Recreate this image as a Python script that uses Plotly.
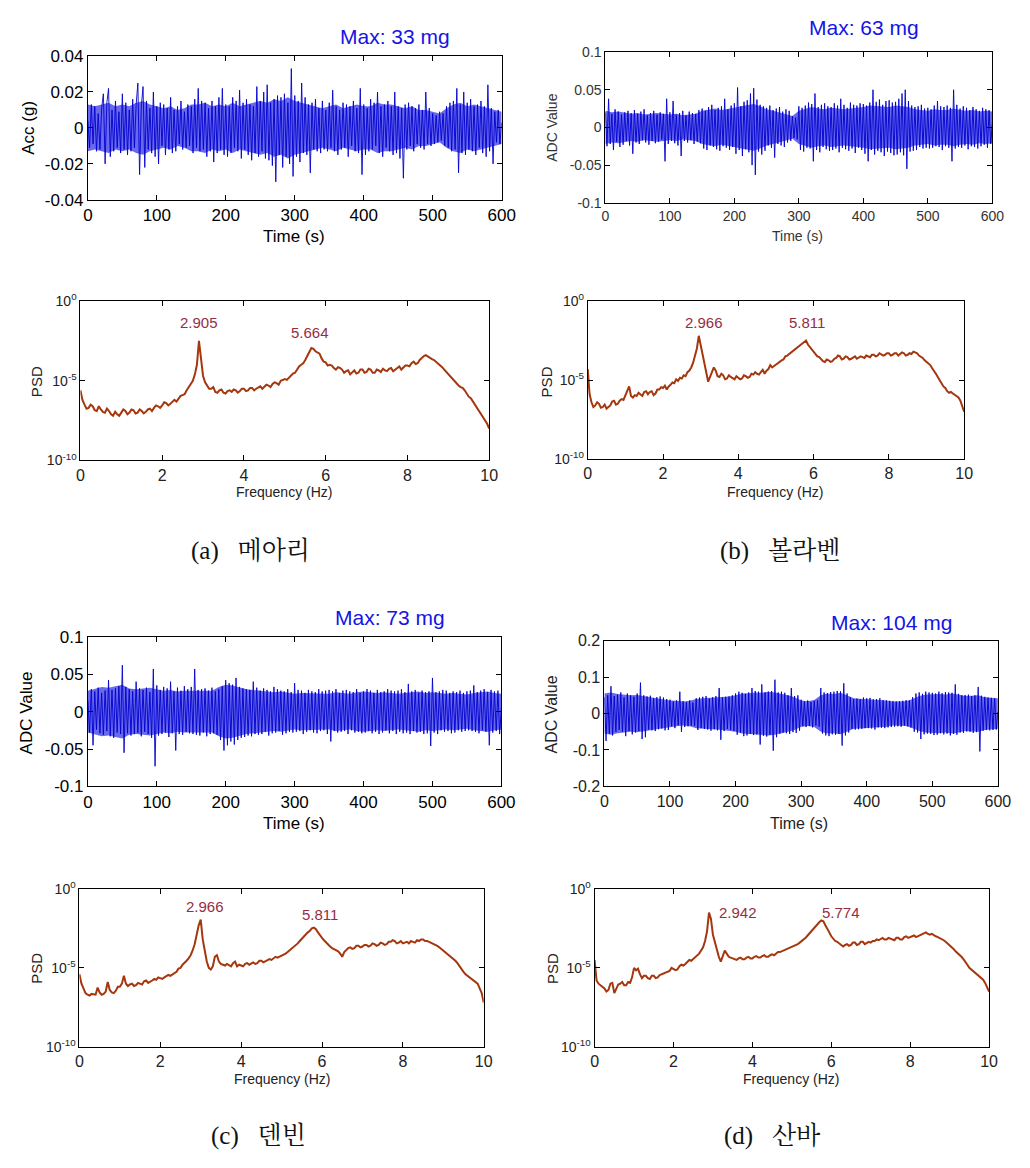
import plotly.graph_objects as go

# page is 1030x1168; the html body keeps its default 8px margin, so the figure is inset by 8px
PAGE_W, PAGE_H = 1030, 1168
INSET = 8
W, H = PAGE_W - 2 * INSET, PAGE_H - 2 * INSET

# ---------------- data ----------------
time_step_s = 2.5
band_step_s = 10
freq_step_hz = 0.05

# (a) Meari  acceleration, mg
acc_a_mg = [
    4, -11, 13, -9, 12, -13, 8, -12, 11, 19, -20, 14, 22, -16, 10, -13, 15, -11, 9, -14,
    19, -12, 14, -15, 10, -13, 16, -11, 13, 25, -26, 12, 23, -22, 15, -12, 11, -14, 20, -16,
    12, -20, 14, -10, 13, -15, 11, -12, 17, -14, 10, -13, 12, -9, 15, -12, 9, -11, 13, -10,
    12, -14, 16, -11, 22, -13, 15, -12, 14, -16, 11, -13, 15, -19, 12, -14, 17, -12, 22, -15,
    13, -16, 12, -14, 17, -11, 15, -13, 21, -17, 14, -12, 16, -15, 13, -18, 12, -14, 23, -16,
    15, -13, 20, -17, 24, -18, 14, -21, 16, -30, 18, -15, 17, -22, 19, -16, 14, -20, 33, -27,
    18, -16, 15, -19, 25, -14, 17, -15, 13, -25, 14, -12, 16, -13, 11, -14, 15, -12, 10, -13,
    14, -11, 21, -13, 12, -15, 10, -12, 14, -11, 13, -16, 12, -10, 15, -13, 11, -14, 22, -26,
    13, -15, 11, -13, 16, -12, 14, -10, 20, -14, 12, -16, 13, -11, 15, -13, 12, -15, 20, -14,
    12, -17, 11, -28, 13, -12, 14, -10, 12, -13, 11, -9, 13, -11, 10, -12, 20, -9, 11, -10,
    8, -9, 7, -8, 9, -7, 8, -10, 12, -11, 14, -13, 15, -12, 22, -25, 13, -14, 20, -15,
    14, -12, 16, -13, 12, -15, 13, -11, 15, -14, 12, -16, 24, -13, 11, -20, 9, -8, 10, -9, 3,
]
# half-width of the dense light-blue band, every 10 s
band_a_mg = [13, 12, 13, 14, 12, 13, 12, 14, 15, 13, 12, 11, 12, 10, 11, 13, 13, 14, 12, 13,
             12, 14, 12, 13, 14, 15, 14, 16, 15, 17, 15, 14, 13, 12, 11, 12, 13, 11, 12, 13,
             12, 12, 14, 13, 13, 12, 11, 12, 10, 10, 9, 8, 11, 13, 14, 12, 13, 12, 11, 10, 9]

# (b) Bolaven  ADC value x1000
adc_b_milli = [
    20, -25, 38, -22, 18, -30, 24, -19, 21, -26, 17, -23, 20, -18, 22, -24, 19, -35, 23, -20,
    18, -22, 21, -17, 24, -20, 16, -23, 19, -18, 22, -21, 17, -19, 20, -16, 18, -45, 38, -22,
    20, -18, 35, -21, 17, -24, 19, -38, 22, -18, 16, -20, 21, -17, 19, -22, 18, -19, 23, -21,
    25, -28, 22, -30, 27, -24, 30, -26, 23, -29, 26, -31, 28, -25, 38, -27, 24, -30, 29, -26,
    32, -35, 53, -30, 28, -38, 34, -29, 36, -33, 45, -50, 52, -63, 37, -32, 30, -36, 28, -31,
    26, -24, 29, -27, 23, -40, 25, -22, 27, -24, 21, -26, 24, -20, 22, -18, 15, -14, 13, -16,
    28, -30, 26, -32, 29, -27, 33, -28, 31, -45, 45, -30, 27, -33, 30, -26, 32, -29, 28, -31,
    27, -30, 32, -28, 29, -33, 38, -27, 30, -29, 26, -31, 33, -28, 30, -34, 29, -27, 32, -30,
    31, -35, 29, -45, 33, -30, 50, -36, 34, -31, 37, -33, 30, -38, 35, -32, 36, -34, 33, -37,
    34, -36, 38, -33, 45, -37, 50, -55, 35, -32, 29, -31, 27, -30, 28, -26, 30, -28, 25, -27,
    26, -28, 24, -27, 29, -25, 35, -26, 28, -30, 27, -25, 29, -27, 26, -45, 50, -28, 30, -26,
    25, -27, 28, -24, 26, -29, 23, -25, 27, -26, 24, -28, 22, -25, 26, -23, 24, -27, 23, -22, 5,
]
band_b_milli = [22, 20, 21, 19, 18, 19, 17, 18, 19, 18, 17, 18, 16, 17, 18, 22, 24, 25, 23, 24,
                26, 28, 30, 31, 28, 24, 22, 20, 18, 15, 22, 25, 27, 25, 24, 26, 25, 24, 25, 26,
                27, 29, 28, 28, 27, 29, 28, 27, 24, 23, 22, 24, 23, 23, 25, 23, 22, 23, 21, 22, 21]

# (c) Tembin  ADC value x1000
adc_c_milli = [
    15, -28, 30, -45, 27, -24, 32, -29, 25, -31, 28, -26, 42, -33, 29, -35, 31, -28, 34, -30,
    62, -55, 33, -29, 30, -32, 27, -30, 40, -28, 31, -33, 29, -27, 32, -30, 26, -35, 57, -73,
    35, -32, 29, -30, 33, -28, 31, -34, 40, -29, 27, -52, 32, -30, 28, -31, 34, -27, 30, -29,
    33, -30, 57, -31, 29, -32, 30, -28, 31, -33, 28, -30, 32, -29, 27, -31, 30, -38, 34, -52,
    42, -45, 38, -40, 36, -44, 45, -38, 33, -35, 31, -34, 30, -32, 29, -33, 40, -30, 32, -31,
    28, -30, 31, -27, 29, -32, 27, -29, 33, -28, 30, -26, 28, -31, 27, -29, 30, -27, 26, -28,
    38, -27, 29, -26, 28, -30, 25, -27, 29, -25, 27, -28, 26, -29, 30, -26, 27, -25, 28, -30,
    29, -40, 27, -26, 30, -28, 25, -27, 28, -26, 29, -30, 27, -25, 26, -28, 30, -27, 25, -29,
    27, -28, 30, -26, 28, -29, 25, -27, 29, -30, 26, -28, 27, -25, 30, -29, 28, -26, 27, -30,
    28, -27, 30, -29, 26, -28, 37, -30, 27, -26, 29, -28, 25, -27, 28, -30, 26, -29, 27, -46,
    45, -28, 26, -30, 27, -25, 29, -27, 28, -26, 25, -29, 27, -28, 26, -25, 28, -27, 25, -26,
    27, -25, 28, -26, 35, -27, 26, -29, 28, -25, 30, -27, 26, -45, 29, -28, 27, -26, 28, -30, 5,
]
band_c_milli = [28, 30, 33, 32, 34, 36, 31, 30, 31, 32, 30, 28, 29, 27, 28, 28, 27, 28, 28, 33,
                36, 35, 32, 30, 29, 28, 27, 26, 27, 25, 24, 25, 25, 24, 25, 24, 26, 25, 24, 26,
                27, 26, 25, 26, 25, 24, 25, 26, 27, 25, 26, 25, 24, 25, 24, 23, 25, 26, 27, 25, 24]

# (d) Sanba  ADC value x1000
adc_d_milli = [
    45, -75, 50, -55, 75, -60, 48, -50, 52, -45, 58, -50, 44, -62, 55, -48, 50, -57, 46, -52,
    55, -48, 85, -70, 50, -65, 47, -44, 49, -46, 42, -48, 45, -43, 47, -41, 44, -46, 40, -45,
    38, -35, 33, -40, 36, -32, 60, -50, 34, -37, 31, -35, 36, -33, 30, -34, 42, -45, 44, -40,
    46, -42, 48, -44, 41, -47, 45, -43, 48, -46, 70, -72, 44, -48, 46, -42, 47, -45, 50, -48,
    55, -58, 60, -52, 57, -62, 54, -60, 58, -56, 70, -59, 62, -57, 60, -85, 80, -61, 58, -63,
    60, -58, 62, -102, 93, -65, 58, -55, 60, -52, 57, -54, 50, -56, 70, -51, 48, -53, 50, -47,
    38, -35, 33, -37, 36, -34, 32, -38, 35, -33, 37, -36, 70, -55, 58, -60, 56, -62, 59, -57,
    60, -58, 62, -56, 61, -88, 83, -60, 55, -52, 45, -42, 40, -44, 41, -43, 39, -42, 44, -40,
    42, -40, 43, -41, 39, -44, 40, -38, 42, -39, 37, -40, 36, -38, 35, -37, 34, -36, 33, -35,
    34, -36, 35, -33, 37, -35, 36, -38, 45, -50, 55, -52, 58, -70, 54, -57, 60, -55, 58, -56,
    57, -59, 55, -58, 60, -54, 56, -57, 59, -55, 58, -60, 57, -56, 80, -58, 54, -52, 50, -53,
    51, -49, 52, -50, 48, -53, 50, -51, 73, -104, 49, -47, 46, -45, 44, -46, 43, -45, 42, -44, 5,
]
band_d_milli = [55, 58, 54, 52, 50, 51, 48, 45, 43, 40, 36, 35, 33, 35, 40, 42, 43, 44, 45, 47,
                50, 55, 56, 58, 57, 60, 58, 55, 50, 45, 36, 34, 37, 50, 55, 54, 57, 50, 42, 41,
                40, 38, 37, 36, 33, 34, 34, 40, 48, 52, 53, 54, 52, 55, 52, 48, 49, 50, 45, 43, 42]

# PSD curves, log10 values on a 0..10 Hz grid (0.05 Hz), one row per Hz
psd_a_log10 = [
    -5.6, -6.2, -6.5, -6.75, -6.7, -6.5, -6.6, -6.85, -6.9, -6.6, -6.8, -6.95, -7.0, -6.75, -6.9, -7.1, -7.2, -6.95, -7.1, -7.2,
    -7.0, -6.8, -6.9, -7.1, -7.0, -6.8, -6.85, -7.05, -7.0, -6.8, -6.9, -7.05, -6.95, -6.8, -6.75, -6.9, -6.7, -6.55, -6.6, -6.7,
    -6.55, -6.35, -6.4, -6.55, -6.45, -6.3, -6.2, -6.3, -6.1, -5.95, -5.9, -5.85, -5.6, -5.35, -5.2, -5.0, -4.6, -4.0, -2.5, -3.6,
    -4.7, -5.1, -5.3, -5.5, -5.5, -5.4, -5.7, -5.75, -5.6, -5.55, -5.75, -5.8, -5.65, -5.6, -5.7, -5.55, -5.6, -5.75, -5.65, -5.5,
    -5.5, -5.65, -5.6, -5.45, -5.45, -5.6, -5.5, -5.4, -5.35, -5.5, -5.4, -5.25, -5.3, -5.4, -5.2, -5.1, -5.15, -5.25, -5.0, -4.95,
    -4.9, -4.95, -4.8, -4.65, -4.55, -4.5, -4.3, -4.1, -4.0, -3.9, -3.7, -3.4, -3.2, -2.95, -3.0, -3.15, -3.25, -3.3, -3.6, -3.8,
    -3.85, -4.05, -4.0, -4.05, -4.2, -4.3, -4.15, -4.2, -4.3, -4.5, -4.4, -4.35, -4.6, -4.45, -4.35, -4.55, -4.5, -4.3, -4.3, -4.5,
    -4.45, -4.25, -4.3, -4.5, -4.5, -4.3, -4.35, -4.45, -4.25, -4.35, -4.4, -4.25, -4.2, -4.4, -4.3, -4.15, -4.1, -4.3, -4.2, -4.05,
    -4.05, -4.1, -3.9, -3.8, -3.95, -3.9, -3.7, -3.55, -3.45, -3.4, -3.5, -3.6, -3.65, -3.7, -3.8, -3.95, -4.05, -4.15, -4.3, -4.45,
    -4.55, -4.7, -4.9, -5.05, -5.15, -5.3, -5.4, -5.45, -5.6, -5.8, -6.0, -6.1, -6.3, -6.5, -6.7, -6.9, -7.1, -7.3, -7.5, -7.7,
    -8.0,
]
psd_b_log10 = [
    -4.3, -5.9, -6.4, -6.7, -6.6, -6.4, -6.5, -6.75, -6.7, -6.55, -6.8, -6.7, -6.6, -6.35, -6.3, -6.55, -6.5, -6.3, -6.2, -6.25,
    -6.0, -5.7, -5.4, -6.0, -6.1, -5.95, -6.0, -5.8, -5.9, -6.0, -5.75, -5.7, -5.9, -5.75, -5.7, -5.95, -5.85, -5.6, -5.6, -5.45,
    -5.5, -5.35, -5.6, -5.4, -5.3, -5.15, -5.2, -4.95, -5.05, -4.85, -4.9, -4.7, -4.75, -4.5, -4.4, -4.2, -3.9, -3.5, -3.0, -2.2,
    -2.8, -3.5, -4.0, -4.6, -5.1, -4.8, -4.5, -4.2, -4.4, -4.75, -4.8, -4.6, -4.7, -4.95, -4.9, -4.7, -4.8, -4.9, -4.95, -4.75,
    -4.85, -4.95, -4.9, -4.7, -4.75, -4.85, -4.8, -4.6, -4.65, -4.5, -4.6, -4.65, -4.5, -4.35, -4.6, -4.4, -4.3, -4.05, -4.2, -4.1,
    -4.0, -3.9, -3.85, -3.75, -3.7, -3.5, -3.45, -3.35, -3.3, -3.15, -3.1, -2.95, -2.9, -2.8, -2.7, -2.6, -2.5, -2.75, -2.9, -3.1,
    -3.2, -3.4, -3.5, -3.55, -3.7, -3.8, -3.85, -3.7, -3.75, -3.85, -3.8, -3.65, -3.6, -3.45, -3.5, -3.7, -3.65, -3.5, -3.55, -3.7,
    -3.65, -3.55, -3.5, -3.65, -3.6, -3.5, -3.55, -3.6, -3.45, -3.5, -3.55, -3.4, -3.4, -3.5, -3.45, -3.3, -3.35, -3.45, -3.4, -3.3,
    -3.3, -3.45, -3.4, -3.3, -3.3, -3.45, -3.35, -3.25, -3.3, -3.45, -3.4, -3.3, -3.35, -3.2, -3.25, -3.3, -3.45, -3.5, -3.6, -3.75,
    -3.85, -3.9, -4.05, -4.25, -4.4, -4.6, -4.8, -5.0, -5.2, -5.4, -5.5, -5.7, -5.8, -5.75, -5.85, -5.95, -6.0, -6.1, -6.3, -6.6,
    -7.0,
]
psd_c_log10 = [
    -5.4, -6.0, -6.3, -6.6, -6.7, -6.75, -6.65, -6.7, -6.7, -6.25, -6.55, -6.7, -6.65, -6.5, -5.9, -6.4, -6.55, -6.6, -6.45, -6.2,
    -6.2, -6.0, -5.5, -6.0, -6.15, -6.05, -6.0, -6.15, -6.1, -5.95, -6.0, -6.05, -5.85, -5.8, -5.95, -5.9, -5.8, -5.7, -5.75, -5.6,
    -5.65, -5.7, -5.6, -5.5, -5.45, -5.5, -5.4, -5.3, -5.25, -5.05, -5.0, -4.8, -4.7, -4.55, -4.4, -4.2, -3.9, -3.5, -2.9, -2.3,
    -1.95, -3.2, -3.9, -4.6, -5.0, -5.1, -4.9, -4.3, -4.2, -4.6, -4.75, -4.8, -4.85, -4.75, -4.8, -4.9, -4.7, -4.6, -4.9, -4.8,
    -4.85, -4.9, -4.75, -4.7, -4.8, -4.7, -4.65, -4.75, -4.7, -4.55, -4.55, -4.65, -4.6, -4.5, -4.45, -4.5, -4.4, -4.3, -4.35, -4.3,
    -4.25, -4.15, -4.1, -4.0, -3.9, -3.8, -3.7, -3.55, -3.45, -3.3, -3.15, -3.0, -2.9, -2.75, -2.65, -2.5, -2.45, -2.55, -2.75, -2.95,
    -3.1, -3.25, -3.4, -3.55, -3.65, -3.75, -3.8, -3.9, -3.95, -4.1, -4.3, -4.0, -3.85, -3.75, -3.7, -3.8, -3.75, -3.6, -3.6, -3.7,
    -3.65, -3.55, -3.55, -3.65, -3.6, -3.45, -3.5, -3.6, -3.55, -3.4, -3.45, -3.55, -3.5, -3.35, -3.35, -3.25, -3.3, -3.45, -3.4, -3.3,
    -3.45, -3.4, -3.35, -3.45, -3.3, -3.35, -3.4, -3.25, -3.3, -3.2, -3.2, -3.3, -3.3, -3.35, -3.4, -3.45, -3.5, -3.6, -3.7, -3.8,
    -3.9, -4.0, -4.1, -4.25, -4.35, -4.45, -4.55, -4.7, -4.9, -5.1, -5.25, -5.4, -5.5, -5.6, -5.75, -5.85, -5.9, -6.0, -6.3, -6.6,
    -7.2,
]
psd_d_log10 = [
    -4.5, -5.8, -6.0, -6.1, -6.25, -6.3, -6.5, -6.4, -6.0, -5.95, -6.6, -6.3, -6.05, -6.0, -5.9, -6.1, -6.1, -5.9, -5.95, -5.6,
    -5.0, -5.15, -5.05, -5.4, -5.65, -5.5, -5.5, -5.65, -5.7, -5.5, -5.5, -5.65, -5.6, -5.45, -5.4, -5.3, -5.3, -5.25, -5.2, -5.0,
    -5.05, -5.15, -5.1, -4.9, -4.8, -4.85, -4.75, -4.6, -4.5, -4.55, -4.45, -4.3, -4.2, -4.1, -3.9, -3.7, -3.3, -2.7, -1.5, -1.9,
    -2.9, -3.4, -3.9, -4.3, -4.6, -4.2, -3.9, -4.1, -4.3, -4.35, -4.4, -4.5, -4.5, -4.4, -4.35, -4.45, -4.45, -4.35, -4.3, -4.4,
    -4.4, -4.3, -4.25, -4.35, -4.35, -4.25, -4.2, -4.3, -4.3, -4.2, -4.15, -4.2, -4.1, -4.0, -4.0, -3.95, -3.9, -3.85, -3.8, -3.75,
    -3.7, -3.65, -3.6, -3.5, -3.4, -3.3, -3.25, -3.1, -2.95, -2.8, -2.65, -2.5, -2.4, -2.25, -2.1, -2.0, -2.05, -2.3, -2.5, -2.75,
    -3.0, -3.15, -3.3, -3.35, -3.45, -3.6, -3.65, -3.55, -3.5, -3.6, -3.55, -3.4, -3.4, -3.55, -3.5, -3.35, -3.35, -3.5, -3.45, -3.35,
    -3.4, -3.3, -3.3, -3.2, -3.25, -3.15, -3.1, -3.2, -3.2, -3.1, -3.15, -3.25, -3.25, -3.1, -3.1, -3.2, -3.2, -3.05, -3.0, -3.1,
    -3.05, -2.95, -2.95, -3.05, -3.0, -2.9, -2.85, -2.8, -2.75, -2.85, -2.9, -2.85, -2.95, -3.0, -3.05, -3.1, -3.2, -3.25, -3.35, -3.45,
    -3.55, -3.65, -3.8, -3.95, -4.05, -4.15, -4.3, -4.45, -4.6, -4.8, -5.0, -5.1, -5.2, -5.3, -5.45, -5.5, -5.6, -5.75, -5.95, -6.2,
    -6.5,
]

max_labels = ["Max: 33 mg", "Max: 63 mg", "Max: 73 mg", "Max: 104 mg"]
peak_labels = [["2.905", "5.664"], ["2.966", "5.811"], ["2.966", "5.811"], ["2.942", "5.774"]]
captions = ["(a)\u00a0\u00a0\u00a0메아리", "(b)\u00a0\u00a0\u00a0볼라벤", "(c)\u00a0\u00a0\u00a0덴빈", "(d)\u00a0\u00a0\u00a0산바"]
time_ticks = [0, 100, 200, 300, 400, 500, 600]
freq_ticks = [0, 2, 4, 6, 8, 10]
acc_ticks = [-0.04, -0.02, 0, 0.02, 0.04]
acc_ticktext = ["-0.04", "-0.02", "0", "0.02", "0.04"]
adc_ticks = [-0.1, -0.05, 0, 0.05, 0.1]
adc_ticktext = ["-0.1", "-0.05", "0", "0.05", "0.1"]
adc2_ticks = [-0.2, -0.1, 0, 0.1, 0.2]
adc2_ticktext = ["-0.2", "-0.1", "0", "0.1", "0.2"]
psd_ticks = [1e-10, 1e-5, 1]
psd_ticktext = ["10<sup>-10</sup>", "10<sup>-5</sup>", "10<sup>0</sup>"]

# ---------------- styling / layout ----------------
SANS = "Liberation Sans, Arial, sans-serif"
BLUE = "rgb(0,0,205)"
BAND = "rgb(105,105,238)"
MAXC = "rgb(20,20,230)"
BROWN = "rgb(165,55,15)"
PEAKC = "rgb(150,45,65)"

fig = go.Figure()
annotations = []


def px(x):
    return (x - INSET) / W


def py(y):
    return 1 - (y - INSET) / H


def add_axes(i, box, xr, xt, xtt, yr, yt, ytt, ylog, xfont, yfont):
    x0, x1, y0, y1 = box
    common = dict(showline=True, linecolor="black", linewidth=1, mirror="ticks",
                  ticks="inside", ticklen=5, tickcolor="black", showgrid=False,
                  zeroline=False, fixedrange=True)
    fig.layout[f"xaxis{i}"] = dict(domain=[px(x0), px(x1)], anchor=f"y{i}", range=xr,
                                   tickmode="array", tickvals=xt, ticktext=xtt,
                                   tickfont=xfont, **common)
    ydict = dict(domain=[py(y1), py(y0)], anchor=f"x{i}", range=yr,
                 tickmode="array", tickvals=yt, ticktext=ytt, tickfont=yfont, **common)
    if ylog:
        ydict["type"] = "log"
    fig.layout[f"yaxis{i}"] = ydict


def text(x, y, s, size, color="black", angle=0, family=SANS, xanchor="center"):
    annotations.append(dict(x=px(x), y=py(y), xref="paper", yref="paper", text=s,
                            showarrow=False, textangle=angle, xanchor=xanchor,
                            yanchor="middle", font=dict(family=family, size=size, color=color)))


time_panels = [
    (1, (84.3, 506, 46.7, 193), acc_a_mg, band_a_mg, acc_ticks, acc_ticktext, [-0.04, 0.04], 17, "black",
     "Acc (g)", (23, 120), (294, 230), (397, 27)),
    (2, (611.7, 1006, 42.7, 196), adc_b_milli, band_b_milli, adc_ticks, adc_ticktext, [-0.1, 0.1], 14, "#333",
     "ADC Value", (557, 120), (807, 230), (875, 18)),
    (5, (84.3, 505.7, 637.7, 790), adc_c_milli, band_c_milli, adc_ticks, adc_ticktext, [-0.1, 0.1], 17, "black",
     "ADC Value", (22, 715), (294, 828), (392, 618)),
    (6, (610.7, 1011.7, 641.7, 790), adc_d_milli, band_d_milli, adc2_ticks, adc2_ticktext, [-0.2, 0.2], 16, "#222",
     "ADC Value", (557, 717), (809, 828), (903, 623)),
]
for k, (i, box, vals, band, yt, ytt, yr, fs, col, ytitle, ypos, xpos, mpos) in enumerate(time_panels):
    tb = [n * band_step_s for n in range(len(band))]
    fig.add_trace(go.Scatter(x=tb, y=[b / 1000.0 for b in band], mode="lines",
                             line=dict(color=BAND, width=0), xaxis=f"x{i}", yaxis=f"y{i}",
                             showlegend=False, hoverinfo="skip"))
    fig.add_trace(go.Scatter(x=tb, y=[-b / 1000.0 for b in band], mode="lines",
                             line=dict(color=BAND, width=0), fill="tonexty", fillcolor=BAND,
                             xaxis=f"x{i}", yaxis=f"y{i}", showlegend=False, hoverinfo="skip"))
    t = [n * time_step_s for n in range(len(vals))]
    y = [v / 1000.0 for v in vals]
    fig.add_trace(go.Scatter(x=t, y=y, mode="lines", line=dict(color=BLUE, width=0.9),
                             xaxis=f"x{i}", yaxis=f"y{i}", showlegend=False, hoverinfo="skip"))
    f = dict(family=SANS, size=fs, color=col)
    add_axes(i, box, [0, 600], time_ticks, [str(v) for v in time_ticks], yr, yt, ytt, False, f, f)
    text(ypos[0], ypos[1], ytitle, fs, col, angle=-90)
    text(xpos[0], xpos[1], "Time (s)", fs, col)
    text(mpos[0], mpos[1], max_labels[k], 21, MAXC)

psd_panels = [
    (3, (76.7, 493.3, 296, 458.3), psd_a_log10, (32, 378), (284, 490), [(197.5, 318), (311, 328)]),
    (4, (593.7, 977.3, 296, 457), psd_b_log10, (552, 378), (785, 490), [(712.5, 318), (817.5, 318)]),
    (7, (75.7, 487.7, 894.3, 1055), psd_c_log10, (32, 975), (282, 1088), [(203.3, 911.7), (320.8, 920.7)]),
    (8, (600.7, 1002.7, 894.3, 1055), psd_d_log10, (557, 975), (801, 1088), [(746.7, 918.3), (851.7, 918.3)]),
]
for k, (i, box, vals, ypos, xpos, ppos) in enumerate(psd_panels):
    fr = [n * freq_step_hz for n in range(len(vals))]
    y = [10 ** v for v in vals]
    fig.add_trace(go.Scatter(x=fr, y=y, mode="lines", line=dict(color=BROWN, width=2),
                             xaxis=f"x{i}", yaxis=f"y{i}", showlegend=False, hoverinfo="skip"))
    add_axes(i, box, [0, 10], freq_ticks, [str(v) for v in freq_ticks], [-10, 0],
             psd_ticks, psd_ticktext, True,
             dict(family=SANS, size=16, color="#222"), dict(family=SANS, size=14, color="#222"))
    text(ypos[0], ypos[1], "PSD", 15, "#222", angle=-90)
    text(xpos[0], xpos[1], "Frequency (Hz)", 14, "#222")
    for lab, (ax, ay) in zip(peak_labels[k], ppos):
        text(ax, ay, lab, 15, PEAKC)

CAP = "Liberation Serif, Noto Serif CJK KR, Noto Sans CJK KR, serif"
for s, (cx, cy) in zip(captions, [(250, 550), (790, 550), (258, 1146), (782, 1146)]):
    text(cx, cy, s, 25, "#111", family=CAP)

fig.update_layout(width=W, height=H, margin=dict(l=0, r=0, t=0, b=0),
                  paper_bgcolor="white", plot_bgcolor="white", annotations=annotations,
                  showlegend=False)

fig.write_html("out.html")
